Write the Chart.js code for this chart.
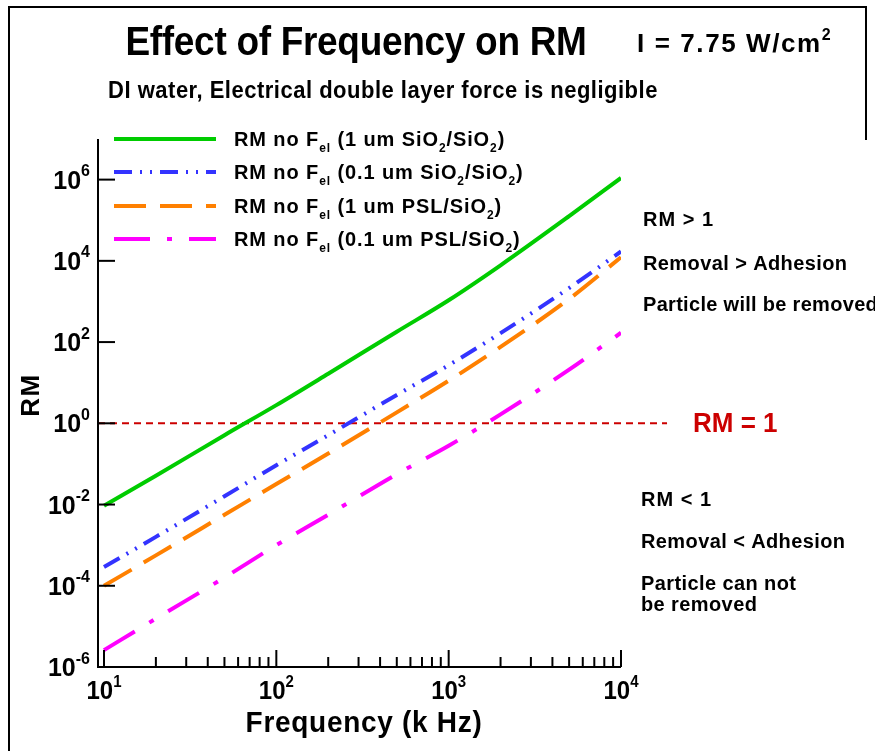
<!DOCTYPE html>
<html>
<head>
<meta charset="utf-8">
<script src="https://cdn.jsdelivr.net/npm/chart.js@4"></script>
<style>
  body { margin: 0; background: #fff; }
</style>
</head>
<body>
<canvas id="rm" width="875" height="751"></canvas>
<script>
// frequency sweep (kHz)
const freq = [10, 20, 50, 100, 200, 500, 1000, 2000, 5000, 10000];
// removal moment ratio, electrical double layer force left out
const rm1umSiO2 = [9.3e-3, 0.051, 0.51, 2.8, 16.6, 180, 1070, 7760, 1.26e5, 1.1e6];
const rm01umSiO2 = [2.9e-4, 1.6e-3, 0.016, 0.093, 0.51, 5.0, 27, 166, 2140, 1.7e4];
const rm1umPSL = [1.0e-4, 5.6e-4, 5.6e-3, 0.032, 0.18, 1.86, 11.2, 76, 1150, 1.23e4];
const rm01umPSL = [2.6e-6, 1.55e-5, 1.6e-4, 1.0e-3, 5.6e-3, 0.056, 0.28, 1.66, 21, 170];

const seriesNames = [
  'RM no F_{el} (1 um SiO_{2}/SiO_{2})',
  'RM no F_{el} (0.1 um SiO_{2}/SiO_{2})',
  'RM no F_{el} (1 um PSL/SiO_{2})',
  'RM no F_{el} (0.1 um PSL/SiO_{2})'
];

// RM = 1 threshold line
const limitFreq = [9.23, 18500];
const limitRM = [1, 1];

const xTicks = [10, 100, 1000, 10000];
const yTicks = [1e-6, 1e-4, 1e-2, 1, 1e2, 1e4, 1e6];

const FONT = '"Liberation Sans", Arial, sans-serif';

function pts(xs, ys) {
  return xs.map((x, i) => ({ x: x, y: ys[i] }));
}

// split "a_{b}c^{d}" into plain / sub / sup pieces
function pieces(str) {
  const out = [];
  const re = /([_^])\{([^}]*)\}|([^_^]+)/g;
  let m;
  while ((m = re.exec(str))) {
    if (m[3]) out.push({ t: m[3], k: '' });
    else out.push({ t: m[2], k: m[1] });
  }
  return out;
}

// bold text with sub/superscripts; sy stretches glyphs vertically
function rich(ctx, str, x, y, size, align, color, spacing, sy) {
  const segs = pieces(str);
  const small = Math.round(size * 0.62);
  ctx.save();
  ctx.letterSpacing = (spacing || 0) + 'px';
  let w = 0;
  segs.forEach(s => {
    ctx.font = 'bold ' + (s.k ? small : size) + 'px ' + FONT;
    s.w = ctx.measureText(s.t).width;
    w += s.w;
  });
  let cx = align === 'center' ? x - w / 2 : align === 'right' ? x - w : x;
  ctx.translate(0, y);
  ctx.scale(1, sy || 1);
  ctx.fillStyle = color || '#000';
  ctx.textBaseline = 'alphabetic';
  ctx.textAlign = 'left';
  segs.forEach(s => {
    ctx.font = 'bold ' + (s.k ? small : size) + 'px ' + FONT;
    let dy = s.k === '_' ? size * 0.3 : s.k === '^' ? -size * 0.47 : 0;
    ctx.fillText(s.t, cx, dy);
    cx += s.w;
  });
  ctx.restore();
}

function expLabel(v) {
  return '10^{' + Math.round(Math.log10(v)) + '}';
}

const decor = {
  id: 'decor',
  beforeDraw(chart) {
    const ctx = chart.ctx;
    ctx.save();
    ctx.fillStyle = '#fff';
    ctx.fillRect(0, 0, chart.width, chart.height);
    ctx.strokeStyle = '#000';
    ctx.lineWidth = 2;
    ctx.beginPath();
    ctx.moveTo(9, chart.height);
    ctx.lineTo(9, 7);
    ctx.lineTo(866, 7);
    ctx.lineTo(866, 140);
    ctx.stroke();
    ctx.restore();
  },
  afterDraw(chart) {
    const ctx = chart.ctx;
    const xs = chart.scales.x, ys = chart.scales.y;
    const a = chart.chartArea;
    ctx.save();

    // axes
    ctx.strokeStyle = '#000';
    ctx.lineWidth = 2;
    ctx.beginPath();
    ctx.moveTo(a.left, a.top);
    ctx.lineTo(a.left, a.bottom);
    ctx.lineTo(a.right, a.bottom);
    ctx.stroke();

    // y ticks, pointing inwards
    yTicks.forEach(v => {
      const py = ys.getPixelForValue(v);
      ctx.beginPath();
      ctx.moveTo(a.left, py);
      ctx.lineTo(a.left + 17, py);
      ctx.stroke();
      rich(ctx, expLabel(v), a.left - 8, py + 9, 25, 'right', '#000', 0, 1.06);
    });

    // x ticks, decades plus 2..9
    xTicks.forEach((v, i) => {
      const px = xs.getPixelForValue(v);
      ctx.beginPath();
      ctx.moveTo(px, a.bottom);
      ctx.lineTo(px, a.bottom - 17);
      ctx.stroke();
      rich(ctx, expLabel(v), px, a.bottom + 32, 24, 'center', '#000', 0, 1.06);
      if (i < xTicks.length - 1) {
        for (let k = 2; k <= 9; k++) {
          const mx = xs.getPixelForValue(v * k);
          ctx.beginPath();
          ctx.moveTo(mx, a.bottom);
          ctx.lineTo(mx, a.bottom - 10);
          ctx.stroke();
        }
      }
    });

    // axis titles
    rich(ctx, 'Frequency (k Hz)', 364, 732, 28, 'center', '#000', 0.7, 1.05);
    ctx.save();
    ctx.translate(39, 395);
    ctx.rotate(-Math.PI / 2);
    rich(ctx, 'RM', 0, 0, 26, 'center', '#000', 1.5);
    ctx.restore();

    // legend
    const rows = [139, 172, 206, 239];
    chart.data.datasets.slice(0, 4).forEach((ds, i) => {
      const y = rows[i];
      ctx.strokeStyle = ds.borderColor;
      ctx.lineWidth = 4;
      ctx.setLineDash(ds.borderDash || []);
      ctx.beginPath();
      ctx.moveTo(114, y);
      ctx.lineTo(216, y);
      ctx.stroke();
      ctx.setLineDash([]);
      rich(ctx, seriesNames[i], 234, y + 7, 20, 'left', '#000', 0.9, 1.05);
    });

    // titles
    rich(ctx, 'Effect of Frequency on RM', 356, 55, 37, 'center', '#000', -0.3, 1.1);
    rich(ctx, 'I = 7.75 W/cm^{2}', 637, 52, 26, 'left', '#000', 1.6, 1.0);
    rich(ctx, 'DI water, Electrical double layer force is negligible', 383, 98, 22, 'center', '#000', 0.5, 1.05);

    // region notes
    rich(ctx, 'RM > 1', 643, 226, 20, 'left', '#000', 1, 1.05);
    rich(ctx, 'Removal > Adhesion', 643, 270, 20, 'left', '#000', 0.4, 1.05);
    rich(ctx, 'Particle will be removed', 643, 311, 20, 'left', '#000', 0.3, 1.05);
    rich(ctx, 'RM = 1', 693, 432, 26, 'left', '#cc0000', 0, 1.05);
    rich(ctx, 'RM < 1', 641, 506, 20, 'left', '#000', 1, 1.05);
    rich(ctx, 'Removal < Adhesion', 641, 548, 20, 'left', '#000', 0.4, 1.05);
    rich(ctx, 'Particle can not', 641, 590, 20, 'left', '#000', 0.4, 1.05);
    rich(ctx, 'be removed', 641, 611, 20, 'left', '#000', 0.4, 1.05);

    ctx.restore();
  }
};

const lineStyle = { fill: false, pointRadius: 0, borderWidth: 4, tension: 0.3, cubicInterpolationMode: 'monotone' };

new Chart(document.getElementById('rm'), {
  type: 'line',
  data: {
    datasets: [
      Object.assign({ label: seriesNames[0], data: pts(freq, rm1umSiO2), borderColor: '#00cc00', borderDash: [] }, lineStyle),
      Object.assign({ label: seriesNames[1], data: pts(freq, rm01umSiO2), borderColor: '#3333ff', borderDash: [18, 8, 2, 8, 2, 8] }, lineStyle),
      Object.assign({ label: seriesNames[2], data: pts(freq, rm1umPSL), borderColor: '#ff8000', borderDash: [32, 14] }, lineStyle),
      Object.assign({ label: seriesNames[3], data: pts(freq, rm01umPSL), borderColor: '#ff00ff', borderDash: [36, 17, 5, 17] }, lineStyle),
      { label: 'RM = 1', data: pts(limitFreq, limitRM), borderColor: '#cc0000', borderWidth: 2, borderDash: [7, 5], pointRadius: 0, clip: false }
    ]
  },
  options: {
    responsive: false,
    animation: false,
    devicePixelRatio: 1,
    layout: { padding: { left: 98, right: 254, top: 139, bottom: 84 } },
    plugins: { legend: { display: false }, tooltip: { enabled: false }, title: { display: false } },
    scales: {
      x: { type: 'logarithmic', display: false, min: 9.23, max: 10000 },
      y: { type: 'logarithmic', display: false, min: 1e-6, max: 1e7 }
    }
  },
  plugins: [decor]
});
</script>
</body>
</html>
